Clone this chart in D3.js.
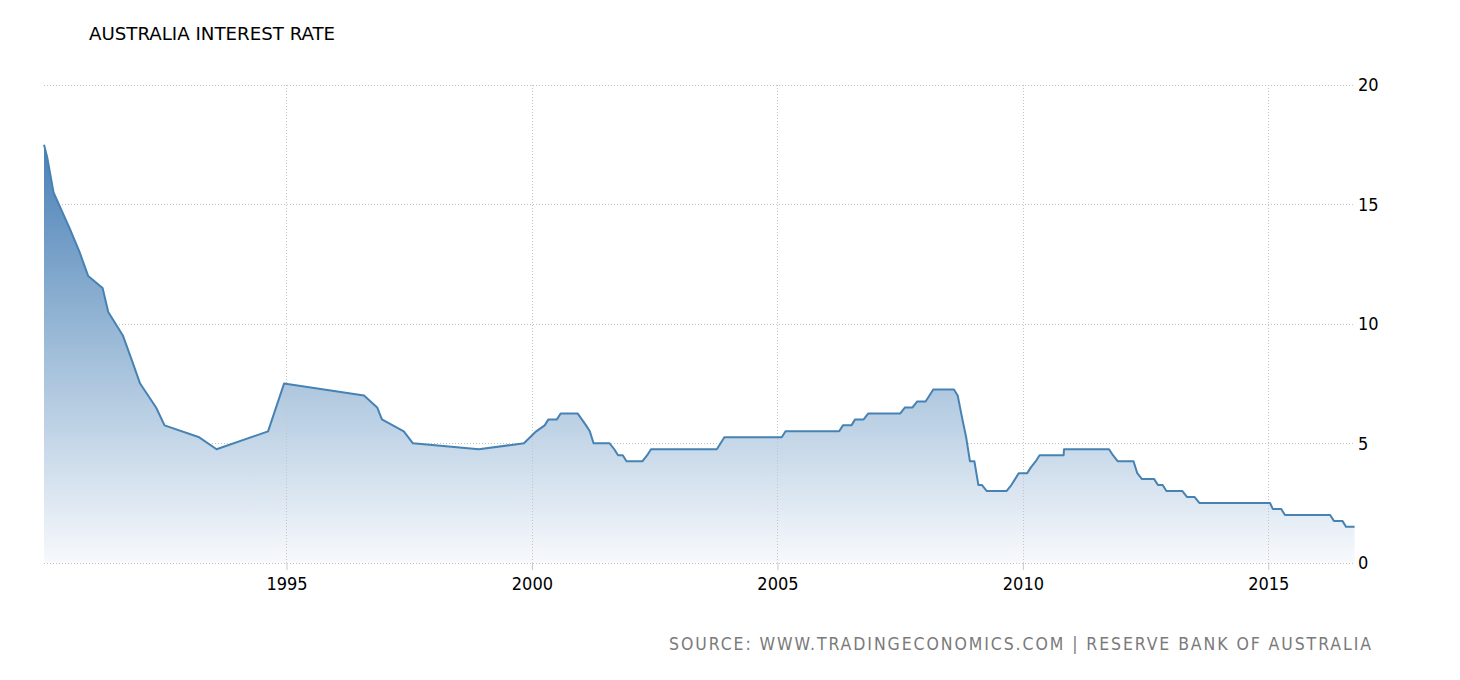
<!DOCTYPE html>
<html><head><meta charset="utf-8">
<script src="https://cdn.jsdelivr.net/npm/d3@7/dist/d3.min.js"></script>
<style>
html,body{margin:0;padding:0;background:#fff;}
svg{display:block;}
</style></head>
<body>
<svg id="chart" width="1460" height="680"></svg>
<script>
const title = "AUSTRALIA INTEREST RATE";
const source = "SOURCE: WWW.TRADINGECONOMICS.COM | RESERVE BANK OF AUSTRALIA";
const dates = [
"1990-01-23","1990-02-15","1990-04-04","1990-08-02","1990-10-15","1990-12-18",
"1991-04-04","1991-05-16","1991-09-03","1991-11-06","1992-01-08","1992-05-06","1992-07-08",
"1993-03-23","1993-07-30","1994-08-17","1994-12-14",
"1996-07-31","1996-11-06","1996-12-11","1997-05-23","1997-07-30","1998-12-02","1999-11-03",
"2000-02-02","2000-04-05","2000-05-03","2000-07-05","2000-08-02","2000-12-06",
"2001-02-07","2001-03-07","2001-04-04","2001-08-01","2001-09-05","2001-10-03","2001-11-07","2001-12-05",
"2002-04-03","2002-05-08","2002-06-05","2003-10-08","2003-11-05","2003-12-03",
"2005-02-02","2005-03-02","2006-04-05","2006-05-03","2006-07-05","2006-08-02","2006-10-04","2006-11-08",
"2007-07-04","2007-08-08","2007-10-03","2007-11-07","2008-01-08","2008-02-06","2008-03-05",
"2008-08-06","2008-09-03","2008-10-08","2008-11-05","2008-12-03",
"2009-01-05","2009-02-04","2009-03-03","2009-04-08","2009-09-01","2009-10-07","2009-11-04","2009-12-02",
"2010-02-02","2010-03-03","2010-04-07","2010-05-05","2010-10-31","2010-11-03",
"2011-10-04","2011-11-02","2011-12-07","2012-04-03","2012-05-01","2012-06-05","2012-09-04","2012-10-02",
"2012-11-06","2012-12-04","2013-04-02","2013-05-07","2013-07-02","2013-08-06",
"2015-01-14","2015-02-03","2015-04-07","2015-05-05","2016-04-05","2016-05-03","2016-07-05","2016-08-02","2016-10-04"
];
const rates = [
17.5,17,15.5,14,13,12,
11.5,10.5,9.5,8.5,7.5,6.5,5.75,
5.25,4.75,5.5,7.5,
7,6.5,6,5.5,5,4.75,5,
5.5,5.75,6,6,6.25,6.25,
5.75,5.5,5,5,4.75,4.5,4.5,4.25,
4.25,4.5,4.75,4.75,5,5.25,
5.25,5.5,5.5,5.75,5.75,6,6,6.25,
6.25,6.5,6.5,6.75,6.75,7,7.25,
7.25,7,6,5.25,4.25,
4.25,3.25,3.25,3,3,3.25,3.5,3.75,
3.75,4,4.25,4.5,4.5,4.75,
4.75,4.5,4.25,4.25,3.75,3.5,3.5,3.25,
3.25,3,3,2.75,2.75,2.5,
2.5,2.25,2.25,2,2,1.75,1.75,1.5,1.5
];
const yTicks = [0,5,10,15,20];
const xTickYears = [1995,2000,2005,2010,2015];

const parse = d3.timeParse("%Y-%m-%d");
const data = dates.map((d,i)=>({date:parse(d), value:rates[i]}));

const svg = d3.select("#chart");
const mLeft = 44, mRight = 1354.6, mTop = 85, mBottom = 562.7;
const FONT = "'DejaVu Sans Condensed', 'DejaVu Sans', sans-serif";

const x = d3.scaleTime().domain([data[0].date, data[data.length-1].date]).range([mLeft, mRight]);
const y = d3.scaleLinear().domain([0,20]).range([mBottom, mTop]);

// gradient
const defs = svg.append("defs");
const grad = defs.append("linearGradient").attr("id","areaGrad")
  .attr("gradientUnits","userSpaceOnUse")
  .attr("x1",0).attr("x2",0).attr("y1",y(17.5)).attr("y2",y(0));
grad.append("stop").attr("offset",0).attr("stop-color","#4a80b6");
grad.append("stop").attr("offset",0.45).attr("stop-color","#98b8d6");
grad.append("stop").attr("offset",1).attr("stop-color","#f7f9fc");

// grid horizontal
const gridY = svg.append("g");
gridY.selectAll("line").data(yTicks).join("line")
  .attr("x1",mLeft).attr("x2",1355)
  .attr("y1",d=>Math.round(y(d))+0.5).attr("y2",d=>Math.round(y(d))+0.5)
  .attr("stroke","#c4c4c4").attr("stroke-width",1).attr("stroke-dasharray","1,2");

// area + line
const area = d3.area().x(d=>x(d.date)).y0(y(0)).y1(d=>y(d.value));
const line = d3.line().x(d=>x(d.date)).y(d=>y(d.value));
svg.append("path").datum(data).attr("d",area).attr("fill","url(#areaGrad)");

// grid vertical
const xTickDates = xTickYears.map(yr=>new Date(yr,0,1));
const gridX = svg.append("g");
gridX.selectAll("line").data(xTickDates).join("line")
  .attr("x1",d=>Math.round(x(d))+0.5).attr("x2",d=>Math.round(x(d))+0.5)
  .attr("y1",mTop).attr("y2",mBottom)
  .attr("stroke","#c4c4c4").attr("stroke-width",1).attr("stroke-dasharray","1,2");

svg.append("path").datum(data).attr("d",line)
  .attr("fill","none").attr("stroke","#4682b4").attr("stroke-width",2).attr("stroke-linejoin","round");

// x axis
const xAxis = d3.axisBottom(x).tickValues(xTickDates).tickFormat(d3.timeFormat("%Y")).tickSize(7).tickPadding(7);
const gx = svg.append("g").attr("transform",`translate(0,${Math.round(mBottom)})`).call(xAxis);
gx.select(".domain").remove();
gx.selectAll(".tick line").attr("stroke","#c8c8c8");
gx.selectAll(".tick text").attr("font-family",FONT).attr("font-size",18).attr("fill","#000");

// y axis
const yAxis = d3.axisRight(y).tickValues(yTicks).tickSize(0).tickPadding(3);
const gy = svg.append("g").attr("transform",`translate(1355,0)`).call(yAxis);
gy.select(".domain").remove();
gy.selectAll(".tick text").attr("font-family",FONT).attr("font-size",18).attr("fill","#000");

// title
svg.append("text").attr("x",89).attr("y",40).text(title)
  .attr("font-family",FONT).attr("font-size",18).attr("fill","#000")
  .attr("textLength",246).attr("lengthAdjust","spacingAndGlyphs");

// source
svg.append("text").attr("x",669).attr("y",650).text(source)
  .attr("font-family",FONT).attr("font-size",17.5).attr("fill","#7a7a7a")
  .attr("textLength",702).attr("lengthAdjust","spacing");
</script>
</body></html>
